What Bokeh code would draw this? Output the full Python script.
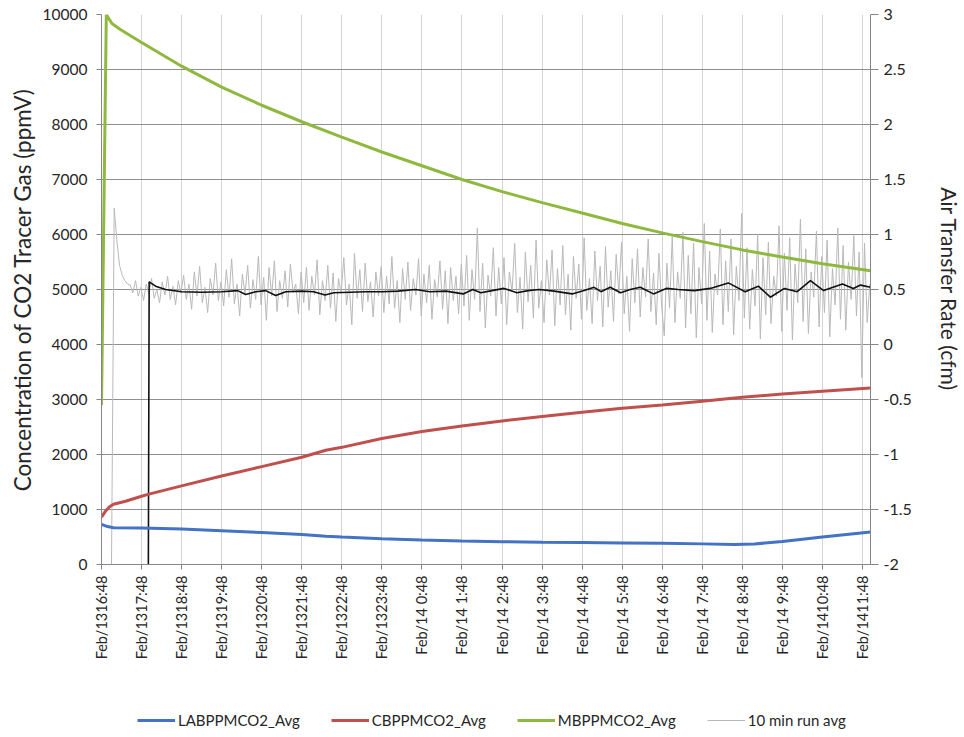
import math
from bokeh.plotting import figure
from bokeh.layouts import column
from bokeh.models import (Range1d, LinearAxis, FixedTicker, Legend, LegendItem,
                          NumeralTickFormatter)
from bokeh.embed import file_html
from bokeh.resources import INLINE

# ---------------- data ----------------
tick_hours = list(range(20))
tick_labels = ["Feb/1316:48", "Feb/1317:48", "Feb/1318:48", "Feb/1319:48", "Feb/1320:48",
               "Feb/1321:48", "Feb/1322:48", "Feb/1323:48", "Feb/14 0:48", "Feb/14 1:48",
               "Feb/14 2:48", "Feb/14 3:48", "Feb/14 4:48", "Feb/14 5:48", "Feb/14 6:48",
               "Feb/14 7:48", "Feb/14 8:48", "Feb/14 9:48", "Feb/1410:48", "Feb/1411:48"]

# hours after Feb/13 16:48
la_hours = [0, 0.15, 0.3, 1, 2, 3, 4, 5, 5.6, 6, 7, 8, 9, 10, 11, 12, 13, 14, 15, 15.8, 16.3, 17, 18, 19.2]
la_ppm = [730, 690, 668, 662, 645, 615, 580, 545, 515, 500, 470, 445, 428, 415, 405, 398, 392, 385,
          375, 365, 372, 420, 500, 590]

cb_hours = [0, 0.1, 0.2, 0.3, 0.6, 1, 1.16, 2, 3, 4, 5, 5.6, 6, 7, 8, 9, 10, 11, 12, 13, 14, 15, 16,
            17, 18, 19.2]
cb_ppm = [860, 970, 1050, 1095, 1150, 1240, 1275, 1430, 1610, 1780, 1950, 2078, 2130, 2290, 2420,
          2520, 2610, 2690, 2770, 2840, 2900, 2970, 3040, 3100, 3150, 3210]

mb_hours = [0, 0.12, 0.26, 0.47, 0.98, 2, 3, 4, 5, 6, 7, 8, 9, 10, 11, 12, 13, 14, 15, 16, 17, 18, 19.2]
mb_ppm = [2900, 10000, 9836, 9727, 9500, 9060, 8680, 8350, 8050, 7770, 7500, 7250, 7000, 6780, 6580,
          6390, 6200, 6030, 5870, 5720, 5590, 5470, 5340]

# air transfer rate (cfm), one reading every 4 minutes starting 0.25 h
rate_start = 0.25
rate_step = 1 / 15
rate_cfm = [
    -2.0, 1.24, 0.95, 0.72, 0.63, 0.58, 0.55,
    0.54, 0.47, 0.58, 0.44, 0.52, 0.40, 0.55, 0.46, 0.60, 0.42, 0.50, 0.38, 0.57, 0.45, 0.62, 0.41,
    0.53, 0.36, 0.58, 0.47,
    0.63, 0.41, 0.55, 0.32, 0.66, 0.44, 0.71, 0.38, 0.52, 0.29, 0.60, 0.45, 0.74, 0.40, 0.57, 0.35,
    0.68, 0.43, 0.78, 0.37, 0.55, 0.26, 0.64, 0.46, 0.72, 0.33, 0.59, 0.41, 0.80, 0.36, 0.61, 0.22,
    0.70, 0.44, 0.76, 0.30, 0.58, 0.42, 0.67, 0.34, 0.73, 0.47, 0.55, 0.28, 0.66,
    0.38, 0.70, 0.31, 0.62, 0.45, 0.77, 0.27, 0.58, 0.40, 0.72, 0.33, 0.65, 0.21, 0.60, 0.47, 0.79,
    0.36, 0.55, 0.18, 0.83, 0.42, 0.68, 0.30, 0.74, 0.39, 0.57, 0.25, 0.66, 0.44, 0.71, 0.29, 0.62,
    0.37, 0.80, 0.33, 0.58, 0.20, 0.69, 0.41, 0.75, 0.31, 0.60, 0.45, 0.78, 0.26, 0.64, 0.38, 0.72,
    0.23, 0.59, 0.43, 0.76, 0.32, 0.67, 0.19, 0.70, 0.40, 0.62, 0.28, 0.73,
    0.35, 0.81, 0.22, 0.68, 0.41, 1.06, 0.30, 0.74, 0.15, 0.63, 0.44, 0.88, 0.26, 0.70, 0.37, 0.79,
    0.18, 0.66, 0.48, 0.92, 0.29, 0.61, 0.14, 0.84, 0.39, 0.72, 0.24, 0.95, 0.33, 0.58, 0.20, 0.77,
    0.45, 0.86, 0.17, 0.69, 0.36, 0.90, 0.27, 0.64, 0.13, 0.80, 0.42, 0.73, 0.23, 0.97, 0.31, 0.60,
    0.19, 0.85, 0.40, 0.71, 0.16, 0.89, 0.34, 0.67, 0.21, 0.82, 0.46, 0.93, 0.28, 0.62, 0.12, 0.78,
    0.38, 0.87, 0.25, 0.70, 0.43, 0.96, 0.30, 0.65, 0.18, 0.83, 0.36,
    0.08, 0.74, 0.33, 0.98, 0.20, 0.66, 0.42, 1.02, 0.15, 0.81, 0.28, 0.92, 0.06, 0.70, 0.37, 1.10,
    0.22, 0.85, 0.11, 0.64, 0.45, 1.05, 0.18, 0.76, 0.30, 0.96, 0.09, 0.71, 0.40, 1.19, 0.24, 0.88,
    0.14, 0.68, 0.35, 1.00, 0.05, 0.79, 0.27, 0.93, 0.19, 0.62, 0.44, 1.08, 0.12, 0.83, 0.31, 0.97,
    0.04, 0.73, 0.38, 1.14, 0.21, 0.87, 0.10, 0.66, 0.43, 1.03, 0.16, 0.80, 0.29, 0.95, 0.07, 0.69,
    0.36, 1.06, 0.23, 0.90, 0.13, 0.75, 0.41, 0.99, 0.26, 0.84, -0.30, 0.92, 0.20, 0.55]
rate_hours = [rate_start + i * rate_step for i in range(len(rate_cfm))]

# moving-average trend of the rate
trend_hours = [1.17, 1.19, 1.35, 1.6, 2.0, 2.5, 3.0, 3.4, 3.6, 3.85, 4.1, 4.35, 4.6, 5.0, 5.3, 5.58,
               5.8, 6.2, 6.6, 7.0, 7.4, 7.84, 8.2, 8.6, 9.03, 9.27, 9.47, 9.75, 10.05, 10.37, 10.65,
               10.93, 11.3, 11.75, 12.05, 12.3, 12.47, 12.7, 12.96, 13.2, 13.45, 13.78, 14.1, 14.4,
               14.8, 15.2, 15.65, 16.07, 16.4, 16.7, 17.05, 17.37, 17.7, 18.03, 18.5, 18.77, 18.95,
               19.2]
trend_cfm = [-2.0, 0.57, 0.53, 0.50, 0.48, 0.475, 0.48, 0.49, 0.455, 0.48, 0.49, 0.445, 0.48, 0.485,
             0.48, 0.45, 0.47, 0.475, 0.48, 0.48, 0.485, 0.50, 0.48, 0.485, 0.46, 0.50, 0.47, 0.49,
             0.51, 0.47, 0.49, 0.50, 0.485, 0.46, 0.49, 0.52, 0.48, 0.52, 0.47, 0.50, 0.52, 0.46,
             0.51, 0.50, 0.49, 0.51, 0.56, 0.48, 0.53, 0.43, 0.51, 0.48, 0.58, 0.49, 0.55, 0.51,
             0.54, 0.52]

left_ticks = [0, 1000, 2000, 3000, 4000, 5000, 6000, 7000, 8000, 9000, 10000]
right_ticks = [-2, -1.5, -1, -0.5, 0, 0.5, 1, 1.5, 2, 2.5, 3]

series_names = ["LABPPMCO2_Avg", "CBPPMCO2_Avg", "MBPPMCO2_Avg", "10 min run avg"]

# ---------------- figure ----------------
FONT = "Lato"
TXT = "#262626"
AXC = "#868686"
C_LA, C_CB, C_MB, C_RATE = "#4472c4", "#c0504d", "#8fb83f", "#b9b9b9"

p = figure(width=964, height=690, output_backend="svg", toolbar_location=None,
           x_range=Range1d(0, 19.2), y_range=Range1d(0, 10000),
           min_border_left=101, min_border_right=82, min_border_top=14, min_border_bottom=126)
p.extra_y_ranges = {"rate": Range1d(-2, 3)}
p.outline_line_color = None
p.background_fill_color = "white"
p.border_fill_color = "white"

# x axis
xa = p.xaxis[0]
xa.ticker = FixedTicker(ticks=tick_hours)
xa.major_label_overrides = {h: lab for h, lab in zip(tick_hours, tick_labels)}
xa.major_label_orientation = math.pi / 2
xa.minor_tick_line_color = None
xa.major_tick_out = 5
xa.major_tick_in = 0
xa.axis_line_color = AXC
xa.major_tick_line_color = AXC
xa.major_label_text_font = FONT
xa.major_label_text_font_size = "14.5px"
xa.major_label_text_color = TXT
xa.major_label_standoff = 6

# left y axis
ya = p.yaxis[0]
ya.ticker = FixedTicker(ticks=left_ticks)
ya.minor_tick_line_color = None
ya.major_tick_out = 5
ya.major_tick_in = 0
ya.axis_line_color = AXC
ya.major_tick_line_color = AXC
ya.major_label_text_font = FONT
ya.major_label_text_font_size = "15.5px"
ya.major_label_text_color = TXT
ya.major_label_standoff = 9
ya.axis_label = "Concentration of CO2 Tracer Gas (ppmV)"
ya.axis_label_text_font = FONT
ya.axis_label_text_font_size = "22.5px"
ya.axis_label_text_font_style = "normal"
ya.axis_label_text_color = TXT
ya.axis_label_standoff = 4

# right y axis
ra = LinearAxis(y_range_name="rate", ticker=FixedTicker(ticks=right_ticks),
                formatter=NumeralTickFormatter(format="0.[0]"))
ra.minor_tick_line_color = None
ra.major_tick_out = 8
ra.major_tick_in = 0
ra.axis_line_color = AXC
ra.major_tick_line_color = AXC
ra.major_label_text_font = FONT
ra.major_label_text_font_size = "16px"
ra.major_label_text_color = TXT
ra.major_label_standoff = 5
ra.axis_label = "Air Transfer Rate (cfm)"
ra.axis_label_text_font = FONT
ra.axis_label_text_font_size = "21px"
ra.axis_label_text_font_style = "normal"
ra.axis_label_text_color = TXT
ra.axis_label_standoff = 22
p.add_layout(ra, "right")

# grids
p.xgrid.ticker = FixedTicker(ticks=tick_hours)
p.xgrid.grid_line_color = "#d4d4d4"
p.xgrid.grid_line_width = 1
p.ygrid.ticker = FixedTicker(ticks=left_ticks)
p.ygrid.grid_line_color = "#8f8f8f"
p.ygrid.grid_line_width = 1

# series
p.line(rate_hours, rate_cfm, y_range_name="rate", line_color=C_RATE, line_width=1)
p.line(trend_hours, trend_cfm, y_range_name="rate", line_color="#111111", line_width=1.6)
p.line(la_hours, la_ppm, line_color=C_LA, line_width=3)
p.line(cb_hours, cb_ppm, line_color=C_CB, line_width=3)
p.line(mb_hours, mb_ppm, line_color=C_MB, line_width=3)

# ---------------- legend strip (same series, drawn outside its view) ----------------
lg = figure(width=964, height=47, output_backend="svg", toolbar_location=None,
            x_axis_type=None, y_axis_type=None,
            min_border_left=0, min_border_right=0, min_border_top=12, min_border_bottom=0,
            x_range=Range1d(0, 19.2), y_range=Range1d(20000, 20001))
lg.outline_line_color = None
lg.xgrid.visible = False
lg.ygrid.visible = False
items = []
for name, xs, ys, col, w in zip(series_names,
                                [la_hours, cb_hours, mb_hours, rate_hours],
                                [la_ppm, cb_ppm, mb_ppm, rate_cfm],
                                [C_LA, C_CB, C_MB, C_RATE], [3, 3, 3, 1]):
    rr = lg.line(xs, ys, line_color=col, line_width=w)
    items.append(LegendItem(label=name, renderers=[rr]))
legend = Legend(items=items, orientation="horizontal", location="left",
                border_line_color=None, background_fill_alpha=0,
                label_text_font=FONT, label_text_font_size="15px", label_text_color=TXT,
                glyph_width=38, glyph_height=16, label_standoff=3, spacing=31,
                padding=2, margin=36)
lg.add_layout(legend, "center")

open("out.html", "w").write(file_html(column(p, lg, spacing=0), INLINE))
